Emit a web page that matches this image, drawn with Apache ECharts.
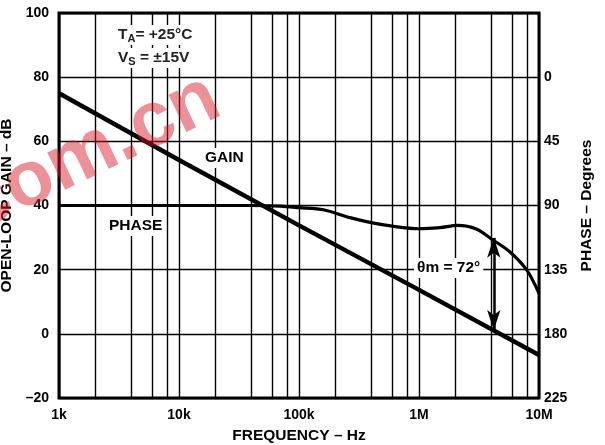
<!DOCTYPE html>
<html>
<head>
<meta charset="utf-8">
<script src="https://cdn.jsdelivr.net/npm/echarts@6/dist/echarts.min.js"></script>
<style>
html,body{margin:0;padding:0;background:#fff;}
#main{width:605px;height:445px;}
</style>
</head>
<body>
<div id="main"></div>
<script>
// ---- data ----
const freqTicks = [1000, 10000, 100000, 1000000, 10000000];
const freqTickLabels = ['1k', '10k', '100k', '1M', '10M'];
const minorMultipliers = [2, 4, 6, 8];
const gainTicks = [-20, 0, 20, 40, 60, 80, 100];
const phaseTicks = [0, 45, 90, 135, 180, 225];

const gainFreq = [1000, 10000, 100000, 1000000, 10000000];
const gainDb   = [75.0, 54.2, 33.8, 13.7, -6.6];

const phaseFreq = [1000, 10000, 40000, 70000, 100000, 160000, 266000, 400000, 600000, 1000000, 1500000, 2100000, 3000000, 4100000, 5700000, 7900000, 10000000];
const phaseDeg  = [90, 90, 90, 90.5, 91.5, 93, 98.5, 102, 104.5, 106.3, 105.5, 104, 106.5, 114, 122.4, 135.2, 151.6];

const marginFreq = 4200000;
const marginPhaseTop = 112.7;   // deg, on phase curve
const marginGainBottom = 1.2;   // dB, on gain curve

// ---- helpers ----
const FONT = '"Liberation Sans", Arial, sans-serif';
const phaseToGainUnits = p => 80 - p / 2.25;

const minorLines = [];
for (let d = 0; d < freqTicks.length - 1; d++) {
  minorMultipliers.forEach(m => minorLines.push({ xAxis: freqTicks[d] * m }));
}

const chart = echarts.init(document.getElementById('main'), null, { renderer: 'canvas' });

const tickStyle = { fontFamily: FONT, fontWeight: 'bold', fontSize: 14, color: '#000' };
const nameStyle = { fontFamily: FONT, fontWeight: 'bold', fontSize: 15.5, color: '#000' };
const annFont = 'bold 15.5px ' + FONT;
const rich = {
  n: { fontFamily: FONT, fontWeight: 'bold', fontSize: 15.5, fill: '#222' },
  s: { fontFamily: FONT, fontWeight: 'bold', fontSize: 11, fill: '#222', verticalAlign: 'bottom', padding: [7, 0, 0, 0] }
};

chart.setOption({
  animation: false,
  backgroundColor: '#fff',
  grid: { left: 59, right: 66, top: 13, bottom: 47, containLabel: false, outerBoundsMode: 'none',
          show: true, borderColor: '#000', borderWidth: 3, backgroundColor: 'transparent' },
  xAxis: {
    type: 'log', logBase: 10, min: freqTicks[0], max: freqTicks[freqTicks.length - 1],
    axisLine: { show: false }, axisTick: { show: false },
    splitLine: { show: true, lineStyle: { color: '#000', width: 1.4 } },
    axisLabel: Object.assign({ margin: 10, formatter: v => { const i = freqTicks.findIndex(t => Math.abs(t - v) / t < 1e-6); return i >= 0 ? freqTickLabels[i] : ''; } }, tickStyle),
    name: 'FREQUENCY – Hz', nameLocation: 'middle', nameGap: 30,
    nameTextStyle: nameStyle
  },
  yAxis: [
    {
      type: 'value', min: gainTicks[0], max: gainTicks[gainTicks.length - 1], interval: 20,
      axisLine: { show: false }, axisTick: { show: false },
      splitLine: { show: true, lineStyle: { color: '#000', width: 1.4 } },
      axisLabel: Object.assign({ margin: 10, formatter: v => gainTicks.includes(v) ? String(v).replace('-', '–') : '' }, tickStyle),
      name: 'OPEN-LOOP GAIN – dB', nameLocation: 'middle', nameGap: 36, nameRotate: 90,
      nameTextStyle: nameStyle
    },
    {
      type: 'value', inverse: true, min: -45, max: 225, interval: 45, position: 'right',
      axisLine: { show: false }, axisTick: { show: false }, splitLine: { show: false },
      axisLabel: Object.assign({ margin: 5, formatter: v => phaseTicks.includes(v) ? String(v) : '' }, tickStyle),
      name: 'PHASE – Degrees', nameLocation: 'middle', nameGap: 36.5, nameRotate: 90,
      nameTextStyle: nameStyle
    }
  ],
  series: [
    {
      name: 'grid', type: 'line', data: [], silent: true, z: 1,
      markLine: {
        silent: true, symbol: ['none', 'none'], label: { show: false },
        lineStyle: { color: '#000', width: 1.4, type: 'solid' },
        data: minorLines
      }
    },
    {
      name: 'GAIN', type: 'line', yAxisIndex: 0, showSymbol: false, z: 3,
      data: gainFreq.map((f, i) => [f, gainDb[i]]),
      lineStyle: { color: '#000', width: 4.5 },
      markLine: {
        silent: true, symbol: ['arrow', 'arrow'], symbolSize: [10, 20], label: { show: false },
        lineStyle: { color: '#000', width: 2.5, type: 'solid' },
        data: [[{ coord: [marginFreq, phaseToGainUnits(marginPhaseTop)] }, { coord: [marginFreq, marginGainBottom] }]]
      }
    },
    {
      name: 'PHASE', type: 'line', yAxisIndex: 1, showSymbol: false, smooth: 0.3, z: 3,
      data: phaseFreq.map((f, i) => [f, phaseDeg[i]]),
      lineStyle: { color: '#000', width: 3.2 }
    }
  ],
  graphic: [
    { type: 'text', left: 116, top: 25, z: 10, style: { text: '{n|T}{s|A}{n|= +25°C}', backgroundColor: '#fff', padding: [1, 2], rich: rich } },
    { type: 'text', left: 116, top: 48, z: 10, style: { text: '{n|V}{s|S}{n| = ±15V}', backgroundColor: '#fff', padding: [1, 2], rich: rich } },
    { type: 'text', left: 202, top: 148, z: 10, style: { text: 'GAIN', font: annFont, fill: '#000', backgroundColor: '#fff', padding: [2, 3] } },
    { type: 'text', left: 106, top: 216, z: 10, style: { text: 'PHASE', font: annFont, fill: '#000', backgroundColor: '#fff', padding: [2, 3] } },
    { type: 'text', left: 414, top: 258, z: 10, style: { text: 'θm = 72°', font: annFont, fill: '#000', backgroundColor: '#fff', padding: [2, 3] } },
    { type: 'text', x: 92, y: 153, rotation: 25.5 * Math.PI / 180, z: 20, silent: true,
      style: { text: 'com.cn', font: 'bold 78px ' + FONT, fill: 'rgba(215,25,40,0.48)', align: 'center', verticalAlign: 'middle' } }
  ]
});
</script>
</body>
</html>
